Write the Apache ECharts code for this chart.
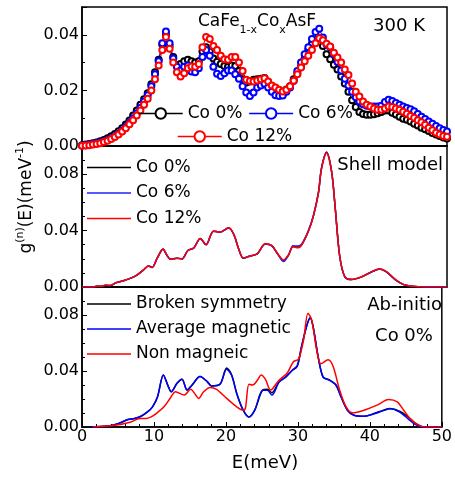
<!DOCTYPE html>
<html>
<head>
<meta charset="utf-8">
<title>CaFe1-xCoxAsF phonon DOS</title>
<script src="https://cdn.jsdelivr.net/npm/echarts@6/dist/echarts.min.js"></script>
<style>
html, body { margin: 0; padding: 0; background: #fff; }
#main { width: 455px; height: 477px; }
</style>
</head>
<body>
<div id="main"></div>
<script>
// ---- data ----
// top panel: measured spectra, 300 K
var expE = [0, 0.5, 1, 1.5, 2, 2.5, 3, 3.5, 4, 4.5, 5, 5.5, 6, 6.5, 7, 7.5, 8, 8.5, 9, 9.5,
    10, 10.5, 11, 11.5, 12, 12.5, 13, 13.5, 14, 14.5, 15, 15.5, 16, 16.5, 17, 17.5, 18, 18.5, 19, 19.5,
    20, 20.5, 21, 21.5, 22, 22.5, 23, 23.5, 24, 24.5, 25, 25.5, 26, 26.5, 27, 27.5, 28, 28.5, 29, 29.5,
    30, 30.5, 31, 31.5, 32, 32.5, 33, 33.5, 34, 34.5, 35, 35.5, 36, 36.5, 37, 37.5, 38, 38.5, 39, 39.5,
    40, 40.5, 41, 41.5, 42, 42.5, 43, 43.5, 44, 44.5, 45, 45.5, 46, 46.5, 47, 47.5, 48, 48.5, 49, 49.5, 50];
var expCo0 = [0.0003, 0.0005, 0.0007, 0.001, 0.0013, 0.0017, 0.0022, 0.0028, 0.0035, 0.0043,
    0.0053, 0.0064, 0.0077, 0.0092, 0.011, 0.0128, 0.0148, 0.0168, 0.019, 0.0222,
    0.0265, 0.031, 0.0365, 0.040, 0.036, 0.032, 0.029, 0.0295, 0.0305, 0.031,
    0.0305, 0.030, 0.0305, 0.034, 0.0355, 0.034, 0.0315, 0.0303, 0.0295, 0.0288,
    0.0285, 0.029, 0.0288, 0.027, 0.024, 0.0228, 0.0232, 0.0238, 0.024, 0.0242,
    0.0245, 0.023, 0.0214, 0.0198, 0.0186, 0.019, 0.0203, 0.0215, 0.024, 0.0262,
    0.0285, 0.0315, 0.0345, 0.0368, 0.0382, 0.0388, 0.036, 0.033, 0.0312, 0.0292,
    0.0275, 0.025, 0.0225, 0.0195, 0.0165, 0.014, 0.0122, 0.0115, 0.0112, 0.0112,
    0.0114, 0.0118, 0.0122, 0.0128, 0.0128, 0.012, 0.0113, 0.0105, 0.0098, 0.0094,
    0.0088, 0.008, 0.0074, 0.0066, 0.006, 0.0054, 0.0047, 0.0041, 0.0036, 0.0031, 0.0027];
var expCo6 = [0.0002, 0.0003, 0.0005, 0.0007, 0.001, 0.0013, 0.0017, 0.0022, 0.0028, 0.0035,
    0.0044, 0.0055, 0.0068, 0.0083, 0.010, 0.0118, 0.0138, 0.016, 0.0183, 0.0215,
    0.0258, 0.0305, 0.037, 0.0412, 0.037, 0.0315, 0.0285, 0.0272, 0.0285, 0.029,
    0.0268, 0.0265, 0.028, 0.032, 0.0345, 0.0325, 0.0285, 0.026, 0.0252, 0.0262,
    0.0272, 0.0272, 0.0258, 0.0242, 0.0215, 0.0192, 0.018, 0.0192, 0.021, 0.0218,
    0.0224, 0.021, 0.0195, 0.0183, 0.018, 0.0182, 0.0195, 0.021, 0.0235, 0.027,
    0.030, 0.033, 0.0355, 0.0385, 0.041, 0.0422, 0.039, 0.0365, 0.0355, 0.033,
    0.0302, 0.0272, 0.0242, 0.0218, 0.0195, 0.0175, 0.016, 0.015, 0.0145, 0.0142,
    0.0142, 0.0142, 0.0145, 0.0158, 0.0166, 0.0162, 0.0155, 0.0148, 0.0142, 0.0137,
    0.0132, 0.0125, 0.0115, 0.0105, 0.0097, 0.0088, 0.008, 0.0072, 0.0064, 0.0058, 0.0052];
var expCo12 = [0.0001, 0.0002, 0.0003, 0.0005, 0.0007, 0.001, 0.0014, 0.0019, 0.0025, 0.0032,
    0.0041, 0.0052, 0.0064, 0.0078, 0.0093, 0.011, 0.0128, 0.0148, 0.017, 0.020,
    0.024, 0.029, 0.0345, 0.0392, 0.035, 0.030, 0.0265, 0.025, 0.0262, 0.028,
    0.0286, 0.0285, 0.0295, 0.0355, 0.0392, 0.0385, 0.036, 0.0345, 0.0325, 0.0312,
    0.031, 0.032, 0.032, 0.030, 0.027, 0.0238, 0.0234, 0.0232, 0.0236, 0.024,
    0.0244, 0.0232, 0.0218, 0.021, 0.0202, 0.0196, 0.0202, 0.0215, 0.0235, 0.0258,
    0.0282, 0.0305, 0.0325, 0.0345, 0.037, 0.0388, 0.038, 0.0368, 0.0358, 0.0335,
    0.0318, 0.030, 0.0275, 0.0255, 0.0225, 0.0195, 0.0178, 0.016, 0.0148, 0.0142,
    0.0135, 0.013, 0.013, 0.0135, 0.0142, 0.014, 0.0135, 0.013, 0.0123, 0.0116,
    0.0108, 0.0102, 0.0093, 0.0085, 0.0076, 0.0066, 0.0057, 0.0048, 0.0041, 0.0036, 0.0033];

// middle panel: shell model
var shellE = [0, 1.4, 2, 2.7, 3.2, 3.9, 4.6, 5.9, 7.3, 8.4, 9.1, 9.6, 10.3, 11.1, 11.6, 12.1, 13.0, 13.7,
    14.5, 15.3, 16.2, 17.0, 18.0, 18.9, 20.1, 20.8, 21.5, 22.1, 22.8, 24.0, 25.1, 26.0, 26.9, 27.6,
    28.3, 28.9, 29.6, 30.1, 31.0, 31.7, 32.4, 32.8, 33.5, 34.2, 34.7, 35.3, 36.0, 36.9, 38.3, 39.7,
    40.8, 41.7, 42.9, 44.0, 45.2, 47.0, 50];
var shellCo0 = [0, 0, 0.0005, 0.0005, 0.0012, 0.001, 0.0029, 0.0048, 0.0077, 0.012, 0.0149, 0.0139,
    0.0204, 0.0269, 0.0228, 0.0197, 0.0204, 0.0199, 0.0259, 0.0276, 0.0344, 0.030, 0.0396, 0.0389,
    0.042, 0.0372, 0.0264, 0.0204, 0.0216, 0.0235, 0.0305, 0.0293, 0.0228, 0.0187, 0.0228, 0.0288,
    0.0283, 0.030, 0.0396, 0.0505, 0.0673, 0.084, 0.0956, 0.0817, 0.0553, 0.022, 0.0072, 0.0053,
    0.0072, 0.0108, 0.0127, 0.0108, 0.0053, 0.0019, 0.0005, 0, 0];
var shellCo6 = [0, 0, 0.0005, 0.0005, 0.0012, 0.001, 0.0029, 0.0048, 0.0077, 0.012, 0.0149, 0.0139,
    0.0204, 0.0268, 0.0228, 0.0196, 0.0204, 0.0199, 0.0259, 0.0276, 0.0343, 0.030, 0.0396, 0.0389,
    0.0419, 0.0372, 0.0264, 0.0204, 0.0216, 0.0235, 0.0305, 0.0292, 0.0226, 0.018, 0.0226, 0.0292,
    0.029, 0.0305, 0.0398, 0.0505, 0.0673, 0.084, 0.0955, 0.0817, 0.0553, 0.022, 0.0072, 0.0053,
    0.0072, 0.0108, 0.0127, 0.0108, 0.0053, 0.0019, 0.0005, 0, 0];
var shellCo12 = [0, 0, 0.0005, 0.0005, 0.0012, 0.001, 0.0029, 0.0048, 0.0077, 0.012, 0.0149, 0.0139,
    0.0204, 0.0269, 0.0229, 0.0198, 0.0204, 0.02, 0.0259, 0.0277, 0.0344, 0.0301, 0.0396, 0.0389,
    0.042, 0.0372, 0.0264, 0.0205, 0.0216, 0.0236, 0.0306, 0.0294, 0.0229, 0.0192, 0.0229, 0.0286,
    0.0278, 0.0298, 0.0394, 0.0503, 0.067, 0.0838, 0.095, 0.0815, 0.0552, 0.022, 0.0073, 0.0054,
    0.0073, 0.0109, 0.0128, 0.0109, 0.0054, 0.0019, 0.0005, 0, 0];

// bottom panel: ab-initio, Co 0%
var abE = [1.2, 3.7, 5.0, 6.4, 7.3, 8.2, 9.1, 9.8, 10.5, 11.3, 12.0, 12.4, 13.2, 13.9, 14.6, 15.3,
    16.4, 17.4, 18.0, 19.2, 20.1, 20.8, 21.5, 22.4, 23.2, 24.0, 25.1, 25.75, 26.4, 27.4, 28.3, 29.2,
    29.9, 30.5, 31.2, 31.7, 32.1, 32.8, 33.5, 34.4, 35.3, 36.0, 36.9, 37.8, 39.2, 40.6, 41.9, 42.8,
    44.2, 45.4, 46.3, 47.2, 47.8, 50];
var brokenSym = [0, 0.0007, 0.0024, 0.0053, 0.006, 0.0077, 0.0108, 0.0144, 0.0216, 0.0372, 0.0288,
    0.0252, 0.0312, 0.0341, 0.0264, 0.030, 0.036, 0.0324, 0.0293, 0.0307, 0.0422, 0.0372, 0.024,
    0.012, 0.0072, 0.012, 0.0264, 0.027, 0.0245, 0.0324, 0.0356, 0.0404, 0.0432, 0.057, 0.072,
    0.078, 0.072, 0.0505, 0.0356, 0.0336, 0.030, 0.0216, 0.012, 0.0084, 0.0077, 0.0096, 0.012,
    0.0132, 0.0112, 0.0068, 0.0028, 0.0004, 0, 0];
var avgMag = [0, 0.0007, 0.0024, 0.0053, 0.006, 0.0077, 0.0108, 0.0144, 0.0216, 0.0372, 0.0288,
    0.0252, 0.0312, 0.0341, 0.0264, 0.030, 0.036, 0.0324, 0.0293, 0.0307, 0.0412, 0.0368, 0.024,
    0.012, 0.0072, 0.012, 0.0262, 0.0262, 0.0228, 0.0322, 0.0356, 0.0406, 0.0438, 0.0575, 0.0715,
    0.0778, 0.0722, 0.0508, 0.0356, 0.0334, 0.0298, 0.0214, 0.0118, 0.0084, 0.0077, 0.0094, 0.0117,
    0.013, 0.0105, 0.0055, 0.0018, 0, 0, 0];
var nmE = [1.5, 4.6, 6.8, 8.0, 8.9, 9.6, 10.3, 11.4, 12.3, 13.0, 14.2, 15.1, 15.8, 16.2, 16.9, 17.8,
    18.7, 20.1, 21.5, 22.4, 22.7, 23.2, 23.7, 24.4, 24.9, 25.5, 26.2, 27.4, 28.5, 29.4, 30.1, 30.8,
    31.4, 31.9, 32.6, 33.2, 34.2, 34.9, 35.8, 36.7, 37.6, 39.2, 41.0, 42.6, 43.8, 44.7, 45.6, 46.8,
    47.7, 50];
var nonMag = [0, 0.0012, 0.0036, 0.006, 0.006, 0.0072, 0.0096, 0.0144, 0.0209, 0.0252, 0.0228,
    0.0269, 0.0228, 0.0204, 0.0252, 0.0283, 0.0269, 0.0204, 0.0144, 0.012, 0.0132, 0.0305, 0.030,
    0.0336, 0.0372, 0.034, 0.0264, 0.0336, 0.0384, 0.0468, 0.0485, 0.0625, 0.0812, 0.0769, 0.0553,
    0.0452, 0.048, 0.0432, 0.0264, 0.0144, 0.0101, 0.012, 0.0156, 0.0197, 0.018, 0.012, 0.006,
    0.0012, 0, 0];

var xTicks = [0, 10, 20, 30, 40, 50];

function pairs(xs, ys) {
    var out = [];
    for (var i = 0; i < xs.length; i++) out.push([xs[i], ys[i]]);
    return out;
}

var font = 'DejaVu Sans';
var legendNames = {s0: 'Co 0%', s6: 'Co 6%', s12: 'Co 12%'};
var legendText = {fontSize: 17, lineHeight: 17, fontFamily: font, color: '#000'};

function gridCfg(top, height) {
    return {left: 82, top: top, width: 365, height: height, show: true,
        borderColor: '#000', borderWidth: 1.5, backgroundColor: 'transparent'};
}

function xAxisCfg(i) {
    var bottom = i === 2;
    return {
        gridIndex: i, type: 'value', min: xTicks[0], max: xTicks[xTicks.length - 1],
        interval: xTicks[1] - xTicks[0],
        axisLine: {lineStyle: {color: '#000', width: 1.5}},
        axisTick: {show: bottom, inside: true, length: 5, lineStyle: {color: '#000'}},
        minorTick: {show: bottom, splitNumber: 5, length: 3, lineStyle: {color: '#000'}},
        splitLine: {show: false},
        axisLabel: {show: bottom, margin: 2, fontSize: 16, color: '#000', fontFamily: font}
    };
}

function yAxisCfg(i, max, interval, minor) {
    return {
        gridIndex: i, type: 'value', min: 0, max: max, interval: interval,
        axisLine: {show: true, lineStyle: {color: '#000', width: 1.5}},
        axisTick: {inside: true, length: 5, lineStyle: {color: '#000'}},
        minorTick: {show: true, splitNumber: minor, length: 3, lineStyle: {color: '#000'}},
        splitLine: {show: false},
        axisLabel: {showMaxLabel: false, margin: 3, fontSize: 16, color: '#000', fontFamily: font,
            formatter: function (v) { return v.toFixed(2); }}
    };
}

function expSeries(name, color, ys) {
    return {
        name: name, type: 'line', xAxisIndex: 0, yAxisIndex: 0,
        data: pairs(expE, ys), color: color,
        symbol: 'emptyCircle', symbolSize: 6,
        itemStyle: {color: color, borderWidth: 1.3},
        lineStyle: {color: color, width: 1}
    };
}

function curve(name, idx, color, xs, ys) {
    return {
        name: name, type: 'line', xAxisIndex: idx, yAxisIndex: idx,
        data: pairs(xs, ys), color: color, showSymbol: false, symbol: 'none',
        smooth: 0.3, lineStyle: {color: color, width: 1.5}
    };
}

var textBase = {fontFamily: font, fill: '#000'};

var myChart = echarts.init(document.getElementById('main'));
var option = {
    animation: false,
    backgroundColor: '#fff',
    grid: [gridCfg(7, 139), gridCfg(146, 141), gridCfg(287, 140)],
    xAxis: [xAxisCfg(0), xAxisCfg(1), xAxisCfg(2)],
    yAxis: [yAxisCfg(0, 0.05, 0.02, 2), yAxisCfg(1, 0.10, 0.04, 4), yAxisCfg(2, 0.10, 0.04, 4)],
    legend: [
        {data: ['Co 0%', 'Co 6%'], left: 138, top: 105, padding: 0, itemWidth: 44, itemHeight: 13,
            itemGap: 6, selectedMode: false, lineStyle: {width: 1.5}, textStyle: legendText},
        {data: ['Co 12%'], left: 177, top: 128, padding: 0, itemWidth: 44, itemHeight: 13,
            selectedMode: false, lineStyle: {width: 1.5}, textStyle: legendText},
        // line-only keys for the computed curves
        {data: ['s0', 's6', 's12'], orient: 'vertical', left: 87, top: 159, padding: 0,
            icon: 'rect', itemWidth: 44, itemHeight: 1.5, itemGap: 8.5, selectedMode: false,
            formatter: function (n) { return legendNames[n]; }, textStyle: legendText},
        {data: ['Broken symmetry', 'Average magnetic', 'Non magneic'], orient: 'vertical',
            left: 87, top: 295.5, padding: 0, icon: 'rect', itemWidth: 44, itemHeight: 1.5,
            itemGap: 8, selectedMode: false, textStyle: legendText}
    ],
    graphic: [
        {type: 'text', x: 198, y: 8, style: {
            text: '{a|CaFe}{b|1-x}{a|Co}{b|x}{a|AsF}',
            rich: {a: {fontSize: 17, lineHeight: 28, fontFamily: font},
                   b: {fontSize: 11, lineHeight: 11, verticalAlign: 'bottom', fontFamily: font}},
            fill: '#000', verticalAlign: 'top'}},
        {type: 'text', x: 425, y: 26, style: Object.assign({text: '300 K', fontSize: 18,
            align: 'right', verticalAlign: 'middle'}, textBase)},
        {type: 'text', x: 443, y: 165, style: Object.assign({text: 'Shell model', fontSize: 18,
            align: 'right', verticalAlign: 'middle'}, textBase)},
        {type: 'text', x: 442, y: 305, style: Object.assign({text: 'Ab-initio', fontSize: 18,
            align: 'right', verticalAlign: 'middle'}, textBase)},
        {type: 'text', x: 404, y: 336, style: Object.assign({text: 'Co 0%', fontSize: 18,
            align: 'center', verticalAlign: 'middle'}, textBase)},
        {type: 'text', x: 265, y: 463, style: Object.assign({text: 'E(meV)', fontSize: 18,
            align: 'center', verticalAlign: 'middle'}, textBase)},
        {type: 'text', x: 27, y: 197, rotation: Math.PI / 2, style: {
            text: '{m|g}{s|(n)}{m|(E)(meV}{s|-1}{m|)}',
            rich: {m: {fontSize: 17, lineHeight: 24, fontFamily: font},
                   s: {fontSize: 11, lineHeight: 11, verticalAlign: 'top', fontFamily: font}},
            fill: '#000', align: 'center', verticalAlign: 'middle'}}
    ],
    series: [
        expSeries('Co 0%', '#000000', expCo0),
        expSeries('Co 6%', '#0000ff', expCo6),
        expSeries('Co 12%', '#ff0000', expCo12),
        curve('s0', 1, '#000000', shellE, shellCo0),
        curve('s6', 1, '#2020ff', shellE, shellCo6),
        curve('s12', 1, '#ff0000', shellE, shellCo12),
        curve('Broken symmetry', 2, '#000000', abE, brokenSym),
        curve('Average magnetic', 2, '#0000ff', abE, avgMag),
        curve('Non magneic', 2, '#ff0000', nmE, nonMag)
    ]
};

myChart.setOption(option);
window.onresize = function () {
    myChart.resize();
};
</script>
</body>
</html>
